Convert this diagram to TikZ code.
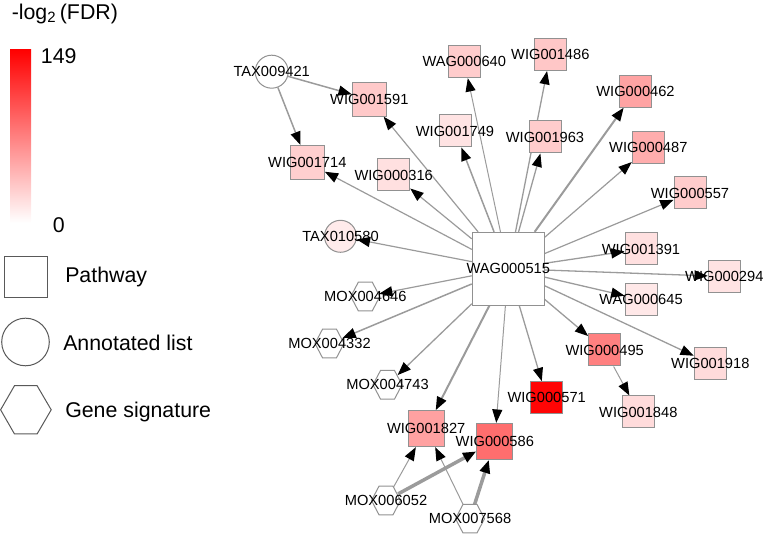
\documentclass[tikz,border=0pt]{standalone}
\usepackage{fontspec}
\setmainfont{Liberation Sans}
\usetikzlibrary{arrows.meta}
\pgfdeclarelayer{bg}
\pgfsetlayers{bg,main}
\definecolor{edgegray}{RGB}{155,155,155}
\definecolor{bordergray}{RGB}{145,145,145}
\newcommand\hexat[3]{%
  \draw[hexline] (#2,#3) ++(-14.5,0) -- ++(7.5,-14.3) -- ++(14,0) -- ++(7.5,14.3) -- ++(-7.5,14.3) -- ++(-14,0) -- cycle;
  \node[hexanchor] (#1) at (#2,#3) {};}
\tikzset{
  sq/.style={shape=rectangle, draw=bordergray, line width=0.75pt, minimum size=#1*0.75pt, inner sep=0pt},
  circ/.style={shape=circle, draw=bordergray, line width=0.75pt, minimum size=#1*0.75pt, inner sep=0pt},
  hexline/.style={draw=bordergray, line width=0.75pt, fill=white},
  hexanchor/.style={shape=circle, minimum size=27.5*0.75pt, inner sep=0pt},
  lbl/.style={font=\fontsize{11}{13}\selectfont, inner sep=0pt},
  legtext/.style={font=\fontsize{16}{19}\selectfont, inner sep=0pt, anchor=west},
  ed/.style={draw=edgegray, line width=#1*0.75pt, -{Triangle[length=10pt,width=7.5pt,color=black]}},
}
\begin{document}
\begin{tikzpicture}[x=0.75pt,y=-0.75pt]
\useasboundingbox (0,0) rectangle (765,534);
% legend
\node[font=\fontsize{16}{19}\selectfont, inner sep=0pt, anchor=west] (title) at (11.5,14) {-log\textsubscript{2}\,(FDR)};
\shade[top color=red, bottom color=white] (10,49.3) rectangle (31,222.7);
\node[legtext, anchor=center] (maxv) at (58.7,56) {149};
\node[legtext, anchor=center] (minv) at (58.7,225) {0};
\draw[draw=black!65, line width=0.75pt] (4,256.7) rectangle (47.3,297.3);
\node[legtext] (lpath) at (65,277) {Pathway};
\draw[draw=black!65, line width=0.75pt] (25.5,342) circle (23.8);
\node[legtext] (lann) at (63,343) {Annotated list};
\draw[draw=black!65, line width=0.75pt] (0.6,409.8) -- (14.5,385.7) -- (37.1,385.7) -- (51.2,409.8) -- (37.1,434) -- (14.5,434) -- cycle;
\node[legtext] (lgene) at (65,411.5) {Gene signature};
% nodes
\node[shape=rectangle, draw=bordergray, line width=0.75pt, minimum width=72*0.75pt, minimum height=72.7*0.75pt, inner sep=0pt, fill=white] (c) at (508.3,268.7) {};
\node[circ=33, fill=white] (t9421) at (271.7,71.7) {};
\node[circ=32, fill=red!8] (t0580) at (340.5,236.3) {};
\node[sq=34, fill=red!21] (w1591) at (369.3,99.2) {};
\node[sq=32, fill=red!20] (a0640) at (464.3,61.7) {};
\node[sq=32, fill=red!11] (w1749) at (455,131) {};
\node[sq=34, fill=red!19] (w1714) at (307.3,162.5) {};
\node[sq=32, fill=red!12] (w0316) at (393.7,175) {};
\node[sq=32, fill=red!22] (w1486) at (550.3,54.5) {};
\node[sq=32, fill=red!36] (w0462) at (635.5,91.2) {};
\node[sq=32, fill=red!20] (w1963) at (545,137) {};
\node[sq=32, fill=red!32] (w0487) at (648.3,147.8) {};
\node[sq=32, fill=red!20] (w0557) at (690,193) {};
\node[sq=32, fill=red!12] (w1391) at (641,249) {};
\node[sq=32, fill=red!11] (w0294) at (724.3,276.5) {};
\node[sq=32, fill=red!9] (a0645) at (641,299.5) {};
\node[sq=32, fill=red!50] (w0495) at (604.7,350) {};
\node[sq=32, fill=red!14] (w1918) at (710.3,363.5) {};
\node[sq=32, fill=red!98] (w0571) at (546.7,397.7) {};
\node[sq=32, fill=red!14] (w1848) at (638.3,412) {};
\node[sq=36, fill=red!37] (w1827) at (426.2,428.7) {};
\node[sq=36, fill=red!57] (w0586) at (494.8,441.3) {};
\hexat{m4646}{365.3}{296.5}
\hexat{m4332}{329.5}{343.5}
\hexat{m4743}{387.5}{384.8}
\hexat{m6052}{386}{500.5}
\hexat{m7568}{470}{518.7}
% edges
\begin{pgfonlayer}{bg}
\draw[ed=1.2] (c) -- (w1714);
\draw[ed=1.2] (c) -- (w1591);
\draw[ed=1.2] (c) -- (w0316);
\draw[ed=1.5] (c) -- (w1749);
\draw[ed=1.0] (c) -- (a0640);
\draw[ed=1.3] (c) -- (w1486);
\draw[ed=1.3] (c) -- (w1963);
\draw[ed=2.0] (c) -- (w0462);
\draw[ed=1.2] (c) -- (w0487);
\draw[ed=1.2] (c) -- (w0557);
\draw[ed=1.3] (c) -- (w1391);
\draw[ed=1.3] (c) -- (w0294);
\draw[ed=1.3] (c) -- (a0645);
\draw[ed=1.3] (c) -- (w1918);
\draw[ed=1.3] (c) -- (w0495);
\draw[ed=1.3] (c) -- (w0571);
\draw[ed=1.0] (c) -- (w0586);
\draw[ed=2.0] (c) -- (w1827);
\draw[ed=1.3] (c) -- (m4743);
\draw[ed=1.5] (c) -- (m4332);
\draw[ed=1.2] (c) -- (m4646);
\draw[ed=1.2] (c) -- (t0580);
\draw[ed=1.5] (t9421) -- (w1591);
\draw[ed=1.5] (t9421) -- (w1714);
\draw[ed=1.0] (w0495) -- (w1848);
\draw[ed=1.0] (m6052) -- (w1827);
\draw[ed=3.5] (m6052) -- (w0586);
\draw[ed=1.0] (m7568) -- (w1827);
\draw[ed=3.5] (m7568) -- (w0586);
\end{pgfonlayer}
% labels
\node[lbl] at (c) {WAG000515};
\node[lbl] at (t9421) {TAX009421};
\node[lbl] at (t0580) {TAX010580};
\node[lbl] at (w1591) {WIG001591};
\node[lbl] at (a0640) {WAG000640};
\node[lbl] at (w1749) {WIG001749};
\node[lbl] at (w1714) {WIG001714};
\node[lbl] at (w0316) {WIG000316};
\node[lbl] at (w1486) {WIG001486};
\node[lbl] at (w0462) {WIG000462};
\node[lbl] at (w1963) {WIG001963};
\node[lbl] at (w0487) {WIG000487};
\node[lbl] at (w0557) {WIG000557};
\node[lbl] at (w1391) {WIG001391};
\node[lbl] at (w0294) {WIG000294};
\node[lbl] at (a0645) {WAG000645};
\node[lbl] at (w0495) {WIG000495};
\node[lbl] at (w1918) {WIG001918};
\node[lbl] at (w0571) {WIG000571};
\node[lbl] at (w1848) {WIG001848};
\node[lbl] at (w1827) {WIG001827};
\node[lbl] at (w0586) {WIG000586};
\node[lbl] at (m4646) {MOX004646};
\node[lbl] at (m4332) {MOX004332};
\node[lbl] at (m4743) {MOX004743};
\node[lbl] at (m6052) {MOX006052};
\node[lbl] at (m7568) {MOX007568};
\end{tikzpicture}
\end{document}
